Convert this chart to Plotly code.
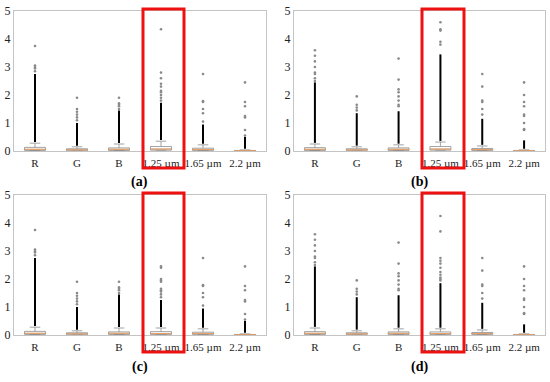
import plotly.graph_objects as go

categories = ["R", "G", "B", "1.25 µm", "1.65 µm", "2.2 µm"]
positions = [1, 2, 3, 4, 5, 6]
panel_labels = ["(a)", "(b)", "(c)", "(d)"]

# Box statistics per panel (one value per category)
q1_a = [0.02, 0.01, 0.02, 0.03, 0.02, 0.00]
med_a = [0.06, 0.04, 0.06, 0.07, 0.05, 0.01]
q3_a = [0.13, 0.08, 0.11, 0.16, 0.10, 0.02]
whisk_a = [0.28, 0.15, 0.25, 0.35, 0.22, 0.04]
dense_top_a = [2.75, 1.0, 1.45, 1.72, 0.95, 0.50]
sparse_a = [
    [2.85, 2.95, 3.0, 3.05, 3.75],
    [1.1, 1.2, 1.3, 1.4, 1.5, 1.9],
    [1.5, 1.6, 1.65, 1.7, 1.9],
    [1.8, 1.9, 2.0, 2.1, 2.15, 2.3, 2.4, 2.6, 2.8, 4.35],
    [1.05, 1.35, 1.5, 1.75, 1.78, 2.75],
    [0.55, 0.75, 1.2, 1.25, 1.6, 1.75, 2.45],
]

q1_b = [0.02, 0.01, 0.02, 0.03, 0.02, 0.00]
med_b = [0.06, 0.04, 0.06, 0.07, 0.05, 0.01]
q3_b = [0.12, 0.08, 0.11, 0.16, 0.09, 0.02]
whisk_b = [0.25, 0.15, 0.22, 0.32, 0.18, 0.04]
dense_top_b = [2.45, 1.35, 1.42, 3.45, 1.15, 0.38]
sparse_b = [
    [2.5, 2.6, 2.75, 2.8, 3.0, 3.2, 3.4, 3.6],
    [1.45, 1.55, 1.65, 1.95],
    [1.6, 1.65, 1.8, 1.95, 2.1, 2.2, 2.55, 3.3],
    [3.8, 3.9, 4.3, 4.35, 4.6],
    [1.3, 1.5, 1.75, 1.8, 2.3, 2.75],
    [0.75, 0.78, 1.0, 1.25, 1.3, 1.6, 1.75, 2.0, 2.45],
]

q1_c = [0.02, 0.01, 0.02, 0.02, 0.02, 0.00]
med_c = [0.06, 0.04, 0.06, 0.05, 0.05, 0.01]
q3_c = [0.13, 0.08, 0.11, 0.12, 0.10, 0.02]
whisk_c = [0.28, 0.15, 0.25, 0.25, 0.22, 0.04]
dense_top_c = [2.75, 1.0, 1.45, 1.25, 0.95, 0.50]
sparse_c = [
    [2.85, 2.95, 3.0, 3.05, 3.75],
    [1.1, 1.2, 1.3, 1.4, 1.5, 1.9],
    [1.5, 1.6, 1.65, 1.7, 1.9],
    [1.35, 1.45, 1.55, 1.6, 1.65, 1.9, 1.95, 2.0, 2.4, 2.45],
    [1.05, 1.35, 1.5, 1.75, 1.78, 2.75],
    [0.55, 0.75, 1.2, 1.25, 1.6, 1.75, 2.45],
]

q1_d = [0.02, 0.01, 0.02, 0.02, 0.02, 0.00]
med_d = [0.06, 0.04, 0.06, 0.05, 0.05, 0.01]
q3_d = [0.12, 0.08, 0.11, 0.11, 0.09, 0.02]
whisk_d = [0.25, 0.15, 0.22, 0.22, 0.18, 0.04]
dense_top_d = [2.45, 1.35, 1.42, 1.85, 1.15, 0.38]
sparse_d = [
    [2.5, 2.6, 2.75, 2.8, 3.0, 3.2, 3.4, 3.6],
    [1.45, 1.55, 1.65, 1.95],
    [1.6, 1.65, 1.8, 1.95, 2.1, 2.2, 2.55, 3.3],
    [1.95, 2.0, 2.05, 2.15, 2.25, 2.4, 2.55, 2.65, 2.75, 3.7, 4.25],
    [1.3, 1.5, 1.75, 1.8, 2.3, 2.75],
    [0.75, 0.78, 1.0, 1.25, 1.3, 1.6, 1.75, 2.0, 2.45],
]

panels = [
    (q1_a, med_a, q3_a, whisk_a, dense_top_a, sparse_a),
    (q1_b, med_b, q3_b, whisk_b, dense_top_b, sparse_b),
    (q1_c, med_c, q3_c, whisk_c, dense_top_c, sparse_c),
    (q1_d, med_d, q3_d, whisk_d, dense_top_d, sparse_d),
]

W, H = 550, 382
FONT = "Liberation Serif"
# pixel layout of the four axes (left, right, top, bottom)
boxes_px = [(14, 266, 11, 151), (294, 545, 11, 151), (14, 266, 195, 335), (294, 545, 195, 335)]
red_px = [(143, 184, 9, 168), (422, 464, 9, 168), (143, 184, 193, 352), (422, 464, 193, 352)]
cap_y_px = [182, 182, 367, 367]

fig = go.Figure()
layout = dict(width=W, height=H, margin=dict(l=0, r=0, t=0, b=0),
              paper_bgcolor="white", plot_bgcolor="white", showlegend=False,
              font=dict(family=FONT, size=12, color="#222"))
shapes, annotations = [], []
half_w = 0.25

for i, (q1, med, q3, wh, dtop, sp) in enumerate(panels):
    n = "" if i == 0 else str(i + 1)
    xa, ya = "x" + n, "y" + n
    l, r, t, b = boxes_px[i]
    layout["xaxis" + n] = dict(domain=[l / W, r / W], range=[0.5, 6.5], tickvals=positions,
                               ticktext=categories, showgrid=False, zeroline=False,
                               showline=True, mirror=True, linecolor="#c4c4c4", linewidth=1,
                               ticks="", tickangle=0, automargin=False, ticklabelstandoff=2,
                               tickfont=dict(size=11, family=FONT, color="#222"), anchor=ya)
    layout["yaxis" + n] = dict(domain=[1 - b / H, 1 - t / H], range=[0, 5], tickvals=[0, 1, 2, 3, 4, 5],
                               showgrid=False, zeroline=False, showline=True, mirror=True,
                               linecolor="#c4c4c4", linewidth=1, ticks="", automargin=False,
                               tickfont=dict(size=12, family=FONT, color="#222"), anchor=xa)
    # dense outliers drawn as thick segments
    dx, dy = [], []
    for p, w, d in zip(positions, wh, dtop):
        dx += [p, p, None]
        dy += [w + 0.04, d, None]
    fig.add_trace(go.Scatter(x=dx, y=dy, mode="lines", line=dict(color="black", width=2),
                             xaxis=xa, yaxis=ya, hoverinfo="skip"))
    # sparse outliers
    sx, sy = [], []
    for p, vals in zip(positions, sp):
        sx += [p] * len(vals)
        sy += vals
    fig.add_trace(go.Scatter(x=sx, y=sy, mode="markers",
                             marker=dict(size=2.6, color="#8a8a8a", line=dict(width=0)),
                             xaxis=xa, yaxis=ya, hoverinfo="skip"))
    # boxes
    fig.add_trace(go.Box(x=positions, q1=q1, median=med, q3=q3, lowerfence=q1, upperfence=wh,
                         width=0.5, whiskerwidth=0.5, fillcolor="white",
                         line=dict(color="#8c8c8c", width=0.8), boxpoints=False,
                         xaxis=xa, yaxis=ya, hoverinfo="skip"))
    # medians
    mx, my = [], []
    for p, m in zip(positions, med):
        mx += [p - half_w, p + half_w, None]
        my += [m, m, None]
    fig.add_trace(go.Scatter(x=mx, y=my, mode="lines", line=dict(color="#f0a060", width=1),
                             xaxis=xa, yaxis=ya, hoverinfo="skip"))
    # red highlight rectangle
    rl, rr, rt, rb = red_px[i]
    shapes.append(dict(type="rect", xref="paper", yref="paper", x0=rl / W, x1=rr / W,
                       y0=1 - rb / H, y1=1 - rt / H, line=dict(color="#ee1111", width=3)))
    annotations.append(dict(text="<b>" + panel_labels[i] + "</b>", xref="paper", yref="paper",
                            x=(l + r) / 2 / W, y=1 - cap_y_px[i] / H, showarrow=False,
                            font=dict(size=14, family=FONT, color="black"),
                            xanchor="center", yanchor="middle"))

layout["shapes"] = shapes
layout["annotations"] = annotations
fig.update_layout(**layout)
fig.write_html("out.html", config={"displayModeBar": False},
               post_script="document.body.style.margin='0';document.body.style.padding='0';")
